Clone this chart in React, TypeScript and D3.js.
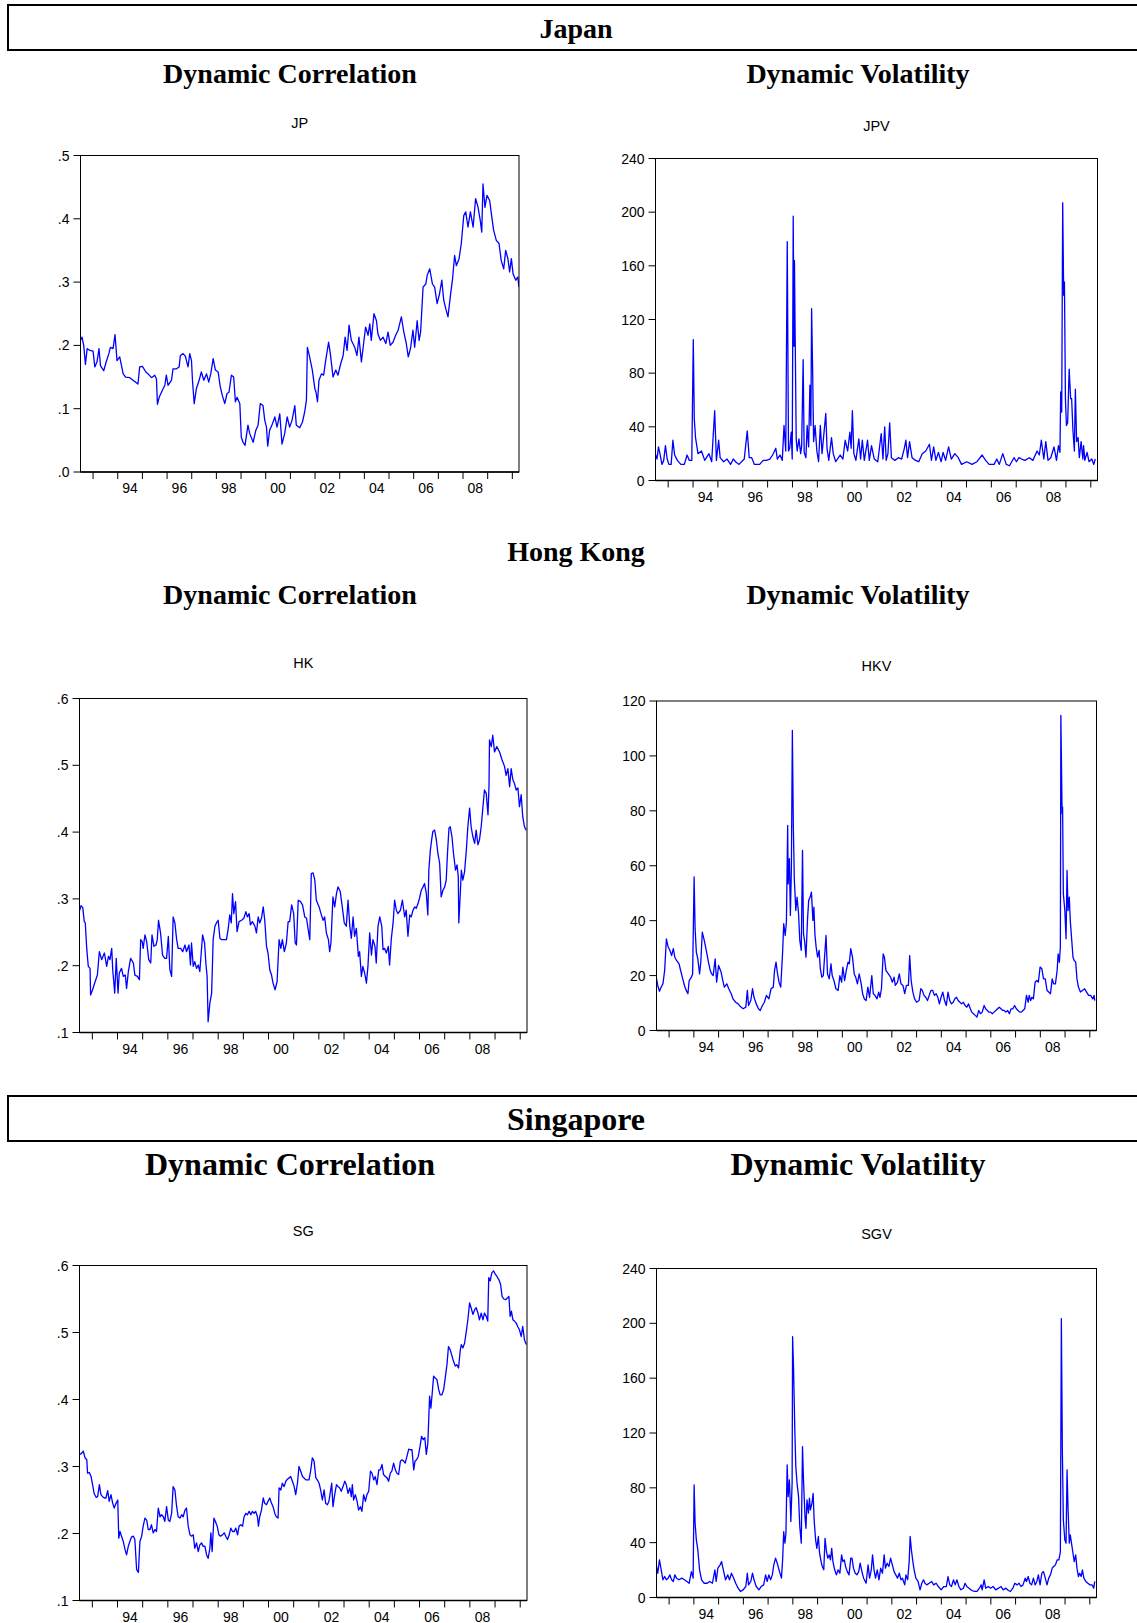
import React from "react";
import * as d3 from "d3";

type Pt = [number, number];

// weekly series: [decimal year, value]
const JP: Pt[] = [
  [1992.49,.208],[1992.55,.213],[1992.62,.200],[1992.69,.170],[1992.76,.195],[1992.87,.192],[1993.00,.191],[1993.07,.166],[1993.16,.174],[1993.24,.195],[1993.30,.168],[1993.43,.160],[1993.54,.175],[1993.64,.187],[1993.70,.197],[1993.81,.195],[1993.89,.217],[1993.97,.176],[1994.08,.182],[1994.22,.155],[1994.32,.150],[1994.49,.149],[1994.62,.145],[1994.82,.139],[1994.89,.166],[1995.00,.167],[1995.14,.158],[1995.23,.155],[1995.37,.149],[1995.50,.153],[1995.57,.147],[1995.61,.107],[1995.68,.118],[1995.81,.129],[1995.91,.137],[1995.97,.153],[1996.04,.137],[1996.18,.145],[1996.24,.163],[1996.38,.163],[1996.49,.166],[1996.54,.184],[1996.65,.187],[1996.74,.183],[1996.85,.166],[1996.92,.187],[1996.99,.176],[1997.03,.145],[1997.10,.108],[1997.19,.132],[1997.30,.145],[1997.39,.158],[1997.49,.145],[1997.60,.155],[1997.69,.142],[1997.77,.155],[1997.87,.179],[1997.96,.161],[1998.07,.158],[1998.16,.134],[1998.24,.121],[1998.34,.108],[1998.43,.124],[1998.51,.126],[1998.61,.153],[1998.70,.150],[1998.77,.111],[1998.84,.118],[1998.95,.108],[1999.01,.055],[1999.08,.047],[1999.16,.042],[1999.28,.074],[1999.35,.061],[1999.49,.047],[1999.60,.066],[1999.69,.074],[1999.78,.108],[1999.89,.105],[1999.96,.082],[2000.03,.071],[2000.08,.041],[2000.16,.066],[2000.27,.076],[2000.37,.087],[2000.46,.071],[2000.57,.092],[2000.66,.044],[2000.77,.061],[2000.87,.087],[2000.97,.071],[2001.07,.082],[2001.18,.105],[2001.24,.074],[2001.38,.070],[2001.49,.079],[2001.58,.095],[2001.65,.113],[2001.69,.197],[2001.78,.182],[2001.89,.161],[2001.99,.132],[2002.04,.126],[2002.10,.111],[2002.16,.145],[2002.26,.155],[2002.35,.153],[2002.43,.176],[2002.55,.205],[2002.62,.187],[2002.73,.150],[2002.84,.161],[2002.93,.153],[2003.04,.171],[2003.14,.184],[2003.22,.213],[2003.30,.192],[2003.38,.232],[2003.47,.208],[2003.61,.197],[2003.70,.184],[2003.78,.213],[2003.88,.174],[2003.97,.203],[2004.05,.229],[2004.15,.216],[2004.22,.234],[2004.28,.208],[2004.39,.250],[2004.49,.239],[2004.55,.218],[2004.65,.208],[2004.76,.213],[2004.87,.203],[2004.96,.221],[2005.05,.200],[2005.16,.205],[2005.27,.216],[2005.37,.224],[2005.50,.245],[2005.60,.221],[2005.70,.203],[2005.78,.182],[2005.87,.195],[2005.97,.224],[2006.04,.197],[2006.14,.239],[2006.22,.208],[2006.28,.221],[2006.38,.292],[2006.49,.297],[2006.55,.311],[2006.65,.321],[2006.76,.297],[2006.85,.292],[2006.95,.266],[2007.05,.282],[2007.14,.303],[2007.22,.271],[2007.30,.258],[2007.39,.245],[2007.49,.279],[2007.57,.303],[2007.66,.342],[2007.73,.326],[2007.84,.337],[2007.93,.361],[2008.03,.405],[2008.11,.411],[2008.20,.387],[2008.30,.411],[2008.41,.387],[2008.51,.432],[2008.61,.418],[2008.70,.397],[2008.76,.379],[2008.81,.455],[2008.89,.418],[2008.97,.437],[2009.08,.429],[2009.16,.405],[2009.24,.382],[2009.35,.366],[2009.46,.361],[2009.55,.334],[2009.65,.321],[2009.73,.350],[2009.82,.337],[2009.89,.316],[2009.96,.337],[2010.03,.313],[2010.14,.303],[2010.22,.308],[2010.27,.292],
];

const JPV: Pt[] = [
  [1992.48,20],[1992.55,16],[1992.61,25],[1992.68,19],[1992.75,12],[1992.82,15],[1992.89,26],[1992.96,16],[1993.03,12],[1993.12,12],[1993.19,30],[1993.26,19],[1993.37,15],[1993.51,12],[1993.65,12],[1993.76,19],[1993.85,15],[1993.95,15],[1994.01,105],[1994.05,46],[1994.10,32],[1994.20,20],[1994.34,22],[1994.47,15],[1994.64,20],[1994.75,14],[1994.87,52],[1994.94,15],[1995.03,30],[1995.09,17],[1995.23,14],[1995.37,16],[1995.51,12],[1995.62,16],[1995.71,14],[1995.85,12],[1996.06,16],[1996.18,37],[1996.26,17],[1996.36,17],[1996.47,12],[1996.68,12],[1996.82,15],[1996.95,15],[1997.09,16],[1997.20,19],[1997.33,24],[1997.39,16],[1997.50,19],[1997.59,15],[1997.66,41],[1997.73,22],[1997.79,178],[1997.84,22],[1997.89,24],[1997.95,36],[1997.99,16],[1998.03,197],[1998.06,100],[1998.08,164],[1998.11,105],[1998.15,31],[1998.19,22],[1998.26,31],[1998.33,20],[1998.37,26],[1998.43,90],[1998.47,21],[1998.54,17],[1998.59,41],[1998.65,25],[1998.70,71],[1998.74,41],[1998.77,128],[1998.81,83],[1998.85,29],[1998.91,41],[1998.98,22],[1999.05,14],[1999.12,41],[1999.19,20],[1999.24,30],[1999.34,50],[1999.39,24],[1999.46,15],[1999.57,32],[1999.64,20],[1999.74,14],[1999.85,17],[1999.92,19],[2000.03,16],[2000.12,30],[2000.22,22],[2000.31,36],[2000.36,24],[2000.41,52],[2000.47,20],[2000.55,15],[2000.67,31],[2000.74,16],[2000.81,30],[2000.89,15],[2001.02,30],[2001.09,15],[2001.18,26],[2001.29,16],[2001.43,14],[2001.57,35],[2001.64,16],[2001.71,40],[2001.77,15],[2001.84,20],[2001.91,43],[2001.98,17],[2002.12,15],[2002.26,17],[2002.39,16],[2002.50,24],[2002.56,30],[2002.63,17],[2002.71,29],[2002.81,17],[2002.95,15],[2003.08,14],[2003.22,20],[2003.36,22],[2003.51,27],[2003.59,15],[2003.68,25],[2003.77,15],[2003.87,21],[2003.98,14],[2004.06,21],[2004.16,15],[2004.28,25],[2004.39,16],[2004.53,20],[2004.67,17],[2004.80,12],[2005.01,14],[2005.22,12],[2005.42,14],[2005.63,19],[2005.77,15],[2005.91,12],[2006.11,12],[2006.22,16],[2006.32,12],[2006.46,20],[2006.60,12],[2006.73,11],[2006.91,17],[2007.01,14],[2007.11,17],[2007.22,16],[2007.35,15],[2007.53,17],[2007.67,15],[2007.84,22],[2007.93,19],[2008.01,30],[2008.11,16],[2008.19,29],[2008.28,15],[2008.39,17],[2008.52,25],[2008.62,15],[2008.70,26],[2008.76,21],[2008.79,66],[2008.83,51],[2008.87,207],[2008.91,138],[2008.94,148],[2008.98,61],[2009.02,41],[2009.07,43],[2009.13,83],[2009.19,61],[2009.23,61],[2009.28,38],[2009.34,22],[2009.38,68],[2009.43,29],[2009.49,32],[2009.54,17],[2009.61,29],[2009.68,16],[2009.71,26],[2009.76,15],[2009.85,21],[2009.93,14],[2010.04,16],[2010.12,12],[2010.18,16],
];

const HK: Pt[] = [
  [1992.50,.283],[1992.55,.290],[1992.62,.287],[1992.68,.266],[1992.72,.264],[1992.78,.224],[1992.84,.199],[1992.91,.196],[1992.93,.156],[1993.01,.164],[1993.11,.176],[1993.20,.186],[1993.28,.221],[1993.37,.209],[1993.48,.219],[1993.57,.199],[1993.64,.214],[1993.70,.209],[1993.77,.226],[1993.81,.194],[1993.89,.159],[1993.95,.211],[1994.02,.159],[1994.07,.189],[1994.16,.196],[1994.23,.184],[1994.31,.186],[1994.36,.166],[1994.43,.191],[1994.52,.211],[1994.63,.204],[1994.69,.186],[1994.79,.184],[1994.87,.179],[1994.92,.239],[1994.98,.236],[1995.02,.226],[1995.09,.246],[1995.16,.236],[1995.24,.209],[1995.32,.204],[1995.37,.246],[1995.45,.229],[1995.53,.231],[1995.58,.239],[1995.63,.268],[1995.71,.249],[1995.79,.216],[1995.88,.211],[1995.95,.211],[1996.02,.244],[1996.08,.194],[1996.15,.184],[1996.21,.273],[1996.28,.264],[1996.35,.239],[1996.41,.226],[1996.51,.226],[1996.59,.221],[1996.68,.231],[1996.74,.221],[1996.84,.231],[1996.90,.201],[1996.94,.234],[1997.01,.199],[1997.07,.206],[1997.14,.196],[1997.21,.201],[1997.27,.191],[1997.38,.246],[1997.46,.234],[1997.51,.204],[1997.56,.184],[1997.60,.116],[1997.67,.144],[1997.74,.159],[1997.80,.239],[1997.87,.259],[1997.93,.264],[1998.00,.268],[1998.07,.241],[1998.13,.239],[1998.23,.239],[1998.33,.239],[1998.40,.256],[1998.46,.276],[1998.52,.264],[1998.57,.308],[1998.62,.278],[1998.69,.296],[1998.75,.251],[1998.83,.266],[1998.93,.268],[1999.02,.271],[1999.10,.281],[1999.16,.273],[1999.23,.278],[1999.28,.261],[1999.36,.266],[1999.46,.259],[1999.52,.249],[1999.59,.273],[1999.65,.264],[1999.72,.271],[1999.79,.288],[1999.85,.268],[1999.92,.229],[1999.98,.219],[2000.05,.194],[2000.12,.186],[2000.18,.174],[2000.26,.164],[2000.34,.176],[2000.42,.239],[2000.49,.226],[2000.55,.239],[2000.63,.221],[2000.71,.234],[2000.78,.266],[2000.84,.266],[2000.92,.291],[2001.00,.278],[2001.06,.234],[2001.11,.231],[2001.18,.298],[2001.27,.296],[2001.35,.291],[2001.44,.273],[2001.51,.271],[2001.57,.256],[2001.64,.239],[2001.70,.338],[2001.77,.339],[2001.84,.328],[2001.90,.298],[2002.01,.288],[2002.10,.276],[2002.17,.268],[2002.23,.273],[2002.30,.249],[2002.38,.239],[2002.43,.221],[2002.48,.234],[2002.56,.303],[2002.63,.288],[2002.70,.308],[2002.76,.318],[2002.85,.311],[2002.93,.288],[2003.01,.264],[2003.09,.259],[2003.16,.298],[2003.23,.259],[2003.29,.241],[2003.36,.273],[2003.42,.244],[2003.49,.256],[2003.57,.214],[2003.62,.221],[2003.69,.184],[2003.75,.199],[2003.82,.189],[2003.89,.174],[2003.95,.199],[2004.02,.249],[2004.09,.216],[2004.15,.239],[2004.23,.229],[2004.28,.204],[2004.35,.259],[2004.42,.273],[2004.50,.259],[2004.55,.224],[2004.61,.226],[2004.68,.219],[2004.76,.229],[2004.81,.201],[2004.88,.241],[2004.95,.264],[2005.01,.298],[2005.08,.283],[2005.14,.278],[2005.24,.283],[2005.32,.298],[2005.41,.273],[2005.47,.283],[2005.54,.244],[2005.61,.276],[2005.67,.273],[2005.74,.283],[2005.81,.288],[2005.87,.286],[2005.94,.293],[2006.00,.301],[2006.07,.313],[2006.14,.318],[2006.20,.323],[2006.27,.308],[2006.33,.276],[2006.37,.343],[2006.43,.373],[2006.48,.388],[2006.53,.401],[2006.60,.403],[2006.67,.388],[2006.73,.368],[2006.80,.353],[2006.86,.303],[2006.93,.313],[2007.00,.318],[2007.06,.328],[2007.11,.368],[2007.17,.406],[2007.22,.408],[2007.29,.393],[2007.35,.368],[2007.43,.343],[2007.49,.351],[2007.54,.333],[2007.56,.264],[2007.62,.308],[2007.66,.343],[2007.72,.328],[2007.79,.341],[2007.86,.373],[2007.92,.408],[2007.99,.436],[2008.05,.408],[2008.12,.393],[2008.19,.383],[2008.25,.403],[2008.32,.381],[2008.38,.388],[2008.45,.408],[2008.52,.438],[2008.58,.463],[2008.65,.458],[2008.72,.426],[2008.76,.468],[2008.78,.538],[2008.85,.528],[2008.91,.545],[2008.98,.520],[2009.07,.528],[2009.18,.520],[2009.28,.508],[2009.38,.498],[2009.44,.485],[2009.51,.495],[2009.58,.468],[2009.64,.495],[2009.71,.478],[2009.77,.473],[2009.84,.463],[2009.91,.466],[2009.97,.438],[2010.04,.456],[2010.10,.423],[2010.17,.408],[2010.24,.403],
];

const HKV: Pt[] = [
  [1992.48,19.4],[1992.54,16.4],[1992.61,14.3],[1992.68,15.8],[1992.75,17.0],[1992.82,21.9],[1992.89,33.4],[1992.96,30.4],[1993.03,29.2],[1993.10,27.3],[1993.17,29.8],[1993.23,26.7],[1993.30,25.5],[1993.40,24.3],[1993.48,21.3],[1993.55,18.8],[1993.62,16.4],[1993.69,14.6],[1993.76,13.4],[1993.81,18.2],[1993.90,19.4],[1993.95,20.6],[1994.01,55.9],[1994.05,37.0],[1994.10,28.5],[1994.16,26.1],[1994.23,20.6],[1994.28,24.9],[1994.34,35.8],[1994.42,32.8],[1994.50,29.2],[1994.59,24.9],[1994.66,21.9],[1994.72,20.6],[1994.78,20.0],[1994.86,26.1],[1994.92,17.6],[1995.00,23.7],[1995.10,21.3],[1995.17,18.2],[1995.23,15.8],[1995.33,17.0],[1995.41,15.2],[1995.51,13.4],[1995.58,11.5],[1995.69,10.3],[1995.79,9.7],[1995.88,8.7],[1995.99,7.9],[1996.10,8.5],[1996.16,14.6],[1996.21,9.1],[1996.30,10.9],[1996.37,15.2],[1996.43,12.1],[1996.52,9.7],[1996.61,7.9],[1996.68,7.3],[1996.77,9.1],[1996.85,10.3],[1996.93,12.8],[1997.03,11.5],[1997.12,15.2],[1997.21,15.8],[1997.26,21.9],[1997.32,24.9],[1997.37,21.3],[1997.44,17.6],[1997.51,15.8],[1997.59,29.2],[1997.63,38.9],[1997.69,34.6],[1997.74,39.5],[1997.79,74.7],[1997.81,53.4],[1997.86,62.6],[1997.90,41.9],[1997.94,58.9],[1997.98,109.3],[1998.02,74.1],[1998.06,54.7],[1998.12,43.7],[1998.17,48.6],[1998.23,42.5],[1998.28,32.8],[1998.34,29.2],[1998.39,65.6],[1998.43,35.2],[1998.48,32.2],[1998.53,26.7],[1998.59,40.1],[1998.64,47.4],[1998.70,48.6],[1998.75,50.4],[1998.81,40.1],[1998.85,44.9],[1998.89,35.2],[1998.94,30.4],[1999.00,26.7],[1999.06,29.2],[1999.11,22.5],[1999.17,19.4],[1999.23,20.0],[1999.30,29.2],[1999.34,34.6],[1999.40,20.6],[1999.47,18.8],[1999.54,24.3],[1999.59,20.0],[1999.66,18.2],[1999.74,15.2],[1999.83,14.6],[1999.90,20.0],[1999.97,17.6],[2000.02,23.1],[2000.09,18.2],[2000.16,21.9],[2000.23,24.9],[2000.28,24.3],[2000.34,29.8],[2000.41,26.7],[2000.48,20.6],[2000.54,19.4],[2000.61,17.0],[2000.68,20.6],[2000.75,17.6],[2000.82,13.4],[2000.89,11.5],[2000.96,10.9],[2001.03,15.8],[2001.10,12.1],[2001.19,20.0],[2001.25,13.4],[2001.32,12.8],[2001.40,11.5],[2001.47,14.0],[2001.52,12.1],[2001.58,15.2],[2001.65,27.9],[2001.70,26.7],[2001.76,21.9],[2001.86,20.6],[2001.95,19.4],[2002.02,17.6],[2002.09,19.4],[2002.14,16.4],[2002.23,17.6],[2002.30,20.6],[2002.37,17.0],[2002.45,16.4],[2002.52,13.4],[2002.59,16.4],[2002.67,16.4],[2002.72,27.3],[2002.78,18.2],[2002.85,14.0],[2002.92,11.5],[2003.00,10.3],[2003.10,10.9],[2003.17,15.2],[2003.23,14.6],[2003.30,12.8],[2003.37,12.1],[2003.44,10.9],[2003.51,12.8],[2003.58,14.6],[2003.65,14.6],[2003.72,12.8],[2003.79,13.4],[2003.86,12.1],[2003.92,9.7],[2003.99,12.1],[2004.06,14.0],[2004.13,10.9],[2004.20,9.1],[2004.27,14.0],[2004.34,10.9],[2004.41,9.7],[2004.48,10.3],[2004.54,11.5],[2004.61,12.1],[2004.68,10.9],[2004.75,10.3],[2004.82,9.7],[2004.89,10.3],[2004.96,9.1],[2005.03,8.5],[2005.10,9.7],[2005.17,7.9],[2005.23,6.7],[2005.30,6.1],[2005.37,5.5],[2005.44,4.9],[2005.51,7.3],[2005.58,6.1],[2005.65,6.7],[2005.73,9.1],[2005.79,7.9],[2005.86,7.3],[2005.92,6.7],[2005.99,6.7],[2006.06,6.1],[2006.13,6.7],[2006.20,7.3],[2006.27,7.9],[2006.34,8.5],[2006.41,7.9],[2006.48,7.3],[2006.54,7.3],[2006.61,6.7],[2006.68,7.3],[2006.75,6.1],[2006.82,7.9],[2006.89,7.9],[2006.96,9.1],[2007.03,7.9],[2007.10,7.3],[2007.17,6.7],[2007.23,6.7],[2007.30,7.3],[2007.37,7.9],[2007.44,12.8],[2007.51,10.3],[2007.55,12.8],[2007.61,10.9],[2007.66,12.1],[2007.72,11.5],[2007.79,17.6],[2007.86,18.2],[2007.92,17.6],[2007.99,23.1],[2008.06,22.5],[2008.13,18.8],[2008.20,18.8],[2008.27,14.6],[2008.34,14.0],[2008.41,13.4],[2008.48,18.8],[2008.54,17.0],[2008.61,17.0],[2008.68,21.9],[2008.72,27.9],[2008.77,24.9],[2008.81,30.4],[2008.83,114.8],[2008.88,79.0],[2008.90,81.4],[2008.93,49.8],[2008.99,43.7],[2009.04,33.4],[2009.08,58.3],[2009.12,43.7],[2009.17,48.6],[2009.21,40.1],[2009.26,34.0],[2009.32,26.7],[2009.37,25.5],[2009.43,24.9],[2009.48,18.8],[2009.54,15.8],[2009.62,14.0],[2009.70,14.6],[2009.79,15.2],[2009.87,14.0],[2009.95,12.8],[2010.03,12.8],[2010.12,11.5],[2010.17,12.8],[2010.20,10.9],
];

const SG: Pt[] = [
  [1992.50,.318],[1992.58,.320],[1992.64,.323],[1992.71,.313],[1992.78,.310],[1992.81,.290],[1992.88,.291],[1992.95,.285],[1993.01,.273],[1993.07,.260],[1993.15,.254],[1993.21,.255],[1993.28,.273],[1993.34,.258],[1993.41,.255],[1993.48,.253],[1993.54,.253],[1993.61,.264],[1993.67,.248],[1993.74,.258],[1993.81,.245],[1993.87,.238],[1993.94,.245],[1994.01,.250],[1994.05,.193],[1994.10,.203],[1994.16,.196],[1994.23,.188],[1994.30,.176],[1994.36,.168],[1994.43,.181],[1994.49,.188],[1994.56,.195],[1994.63,.196],[1994.69,.191],[1994.76,.146],[1994.83,.142],[1994.89,.188],[1994.96,.196],[1995.02,.211],[1995.09,.223],[1995.16,.220],[1995.22,.206],[1995.29,.206],[1995.35,.213],[1995.42,.201],[1995.49,.206],[1995.55,.203],[1995.62,.238],[1995.69,.225],[1995.75,.228],[1995.82,.225],[1995.88,.218],[1995.95,.240],[1996.02,.220],[1996.08,.218],[1996.15,.230],[1996.21,.270],[1996.28,.265],[1996.35,.240],[1996.41,.225],[1996.48,.223],[1996.55,.228],[1996.61,.225],[1996.68,.235],[1996.74,.238],[1996.81,.211],[1996.88,.198],[1996.94,.196],[1997.01,.198],[1997.07,.178],[1997.14,.186],[1997.21,.173],[1997.27,.183],[1997.34,.186],[1997.40,.181],[1997.47,.181],[1997.54,.168],[1997.60,.163],[1997.67,.178],[1997.71,.201],[1997.76,.173],[1997.83,.223],[1997.89,.218],[1997.96,.211],[1998.03,.198],[1998.09,.196],[1998.17,.198],[1998.24,.201],[1998.30,.196],[1998.37,.191],[1998.44,.198],[1998.50,.208],[1998.57,.203],[1998.64,.203],[1998.70,.208],[1998.77,.198],[1998.83,.211],[1998.90,.213],[1998.97,.211],[1999.03,.225],[1999.10,.230],[1999.16,.228],[1999.23,.233],[1999.30,.228],[1999.36,.233],[1999.43,.230],[1999.49,.233],[1999.56,.225],[1999.60,.211],[1999.65,.225],[1999.72,.235],[1999.79,.253],[1999.85,.245],[1999.92,.243],[1999.98,.248],[2000.05,.253],[2000.12,.245],[2000.18,.240],[2000.25,.230],[2000.31,.225],[2000.38,.223],[2000.42,.268],[2000.49,.265],[2000.55,.275],[2000.62,.270],[2000.69,.278],[2000.75,.281],[2000.82,.283],[2000.88,.285],[2000.95,.278],[2001.02,.270],[2001.08,.258],[2001.15,.275],[2001.21,.300],[2001.28,.293],[2001.35,.285],[2001.41,.283],[2001.48,.280],[2001.55,.280],[2001.61,.280],[2001.68,.295],[2001.74,.313],[2001.81,.308],[2001.88,.283],[2001.94,.280],[2002.01,.275],[2002.07,.265],[2002.14,.250],[2002.21,.265],[2002.27,.245],[2002.34,.243],[2002.40,.248],[2002.47,.265],[2002.51,.275],[2002.56,.240],[2002.63,.258],[2002.70,.273],[2002.76,.270],[2002.83,.268],[2002.89,.263],[2002.96,.270],[2003.03,.278],[2003.09,.273],[2003.16,.260],[2003.23,.268],[2003.29,.255],[2003.33,.273],[2003.38,.250],[2003.45,.258],[2003.52,.248],[2003.58,.235],[2003.65,.240],[2003.71,.233],[2003.78,.258],[2003.85,.248],[2003.91,.258],[2003.98,.263],[2004.05,.293],[2004.11,.290],[2004.18,.280],[2004.24,.285],[2004.31,.273],[2004.38,.295],[2004.44,.295],[2004.51,.303],[2004.57,.288],[2004.64,.285],[2004.71,.283],[2004.77,.278],[2004.84,.290],[2004.90,.293],[2004.97,.305],[2005.04,.295],[2005.10,.290],[2005.17,.288],[2005.24,.308],[2005.30,.310],[2005.37,.308],[2005.43,.305],[2005.50,.315],[2005.57,.326],[2005.63,.325],[2005.70,.325],[2005.77,.295],[2005.82,.308],[2005.88,.310],[2005.95,.315],[2006.02,.330],[2006.08,.345],[2006.15,.340],[2006.21,.343],[2006.27,.318],[2006.33,.335],[2006.40,.405],[2006.45,.387],[2006.51,.412],[2006.56,.435],[2006.62,.432],[2006.69,.430],[2006.76,.415],[2006.82,.407],[2006.89,.407],[2006.96,.415],[2007.02,.432],[2007.09,.452],[2007.15,.479],[2007.22,.474],[2007.29,.465],[2007.35,.457],[2007.42,.450],[2007.48,.452],[2007.55,.447],[2007.62,.474],[2007.66,.482],[2007.72,.477],[2007.79,.484],[2007.86,.502],[2007.92,.519],[2007.99,.544],[2008.05,.537],[2008.12,.527],[2008.19,.534],[2008.25,.537],[2008.32,.529],[2008.38,.519],[2008.45,.529],[2008.52,.519],[2008.58,.529],[2008.65,.524],[2008.71,.517],[2008.75,.582],[2008.81,.577],[2008.87,.589],[2008.94,.592],[2009.01,.587],[2009.07,.584],[2009.15,.579],[2009.22,.572],[2009.28,.554],[2009.35,.550],[2009.42,.549],[2009.48,.551],[2009.55,.554],[2009.60,.524],[2009.65,.532],[2009.71,.519],[2009.77,.517],[2009.84,.514],[2009.90,.509],[2009.97,.504],[2010.04,.494],[2010.10,.509],[2010.17,.489],[2010.24,.482],
];

const SGV: Pt[] = [
  [1992.48,23.8],[1992.54,17.7],[1992.61,27.4],[1992.68,20.2],[1992.75,12.9],[1992.82,15.3],[1992.89,12.9],[1992.96,14.1],[1993.03,16.5],[1993.10,12.9],[1993.17,11.7],[1993.23,16.5],[1993.30,14.1],[1993.40,12.9],[1993.51,14.1],[1993.62,12.9],[1993.72,11.7],[1993.81,10.4],[1993.90,18.9],[1993.97,14.1],[1994.01,82.1],[1994.05,54.2],[1994.10,42.0],[1994.16,34.7],[1994.23,20.2],[1994.31,12.9],[1994.41,10.4],[1994.54,10.4],[1994.64,11.7],[1994.75,10.4],[1994.85,20.2],[1994.90,11.7],[1994.97,21.4],[1995.06,23.8],[1995.12,26.2],[1995.19,20.2],[1995.28,12.9],[1995.37,16.5],[1995.44,12.9],[1995.52,17.7],[1995.61,14.1],[1995.69,10.4],[1995.79,6.8],[1995.88,4.4],[1995.99,5.6],[1996.10,8.0],[1996.16,17.7],[1996.21,9.2],[1996.30,11.7],[1996.37,17.7],[1996.43,12.9],[1996.52,8.0],[1996.63,5.6],[1996.72,8.0],[1996.82,9.2],[1996.90,16.5],[1996.96,11.7],[1997.03,16.5],[1997.10,12.9],[1997.17,16.5],[1997.23,23.8],[1997.30,28.7],[1997.37,25.0],[1997.46,18.9],[1997.54,14.1],[1997.59,28.7],[1997.63,48.1],[1997.68,39.6],[1997.72,46.9],[1997.77,96.7],[1997.81,73.6],[1997.86,85.7],[1997.90,66.3],[1997.92,55.4],[1997.97,83.3],[1997.99,190.2],[1998.03,165.9],[1998.08,121.0],[1998.12,95.5],[1998.17,83.3],[1998.23,73.6],[1998.28,51.7],[1998.34,39.6],[1998.39,110.0],[1998.43,85.7],[1998.49,59.0],[1998.53,50.5],[1998.57,71.2],[1998.63,61.5],[1998.67,72.4],[1998.71,63.9],[1998.77,68.7],[1998.82,76.0],[1998.86,56.6],[1998.92,42.0],[1998.97,35.9],[1999.03,44.5],[1999.08,32.3],[1999.14,26.2],[1999.19,22.6],[1999.25,20.2],[1999.30,43.2],[1999.36,33.5],[1999.41,28.7],[1999.47,31.1],[1999.52,27.4],[1999.57,35.9],[1999.62,26.2],[1999.69,20.2],[1999.76,16.5],[1999.83,20.2],[1999.90,17.7],[1999.97,31.1],[2000.02,26.2],[2000.08,27.4],[2000.13,22.6],[2000.20,18.9],[2000.27,16.5],[2000.34,28.7],[2000.39,28.7],[2000.45,21.4],[2000.52,17.7],[2000.59,16.5],[2000.66,18.9],[2000.72,25.0],[2000.79,18.9],[2000.86,14.1],[2000.96,10.4],[2001.04,23.8],[2001.10,14.1],[2001.17,20.2],[2001.22,31.1],[2001.28,20.2],[2001.34,14.1],[2001.41,20.2],[2001.48,12.9],[2001.55,21.4],[2001.62,17.7],[2001.69,31.1],[2001.74,21.4],[2001.81,25.0],[2001.88,22.6],[2001.95,28.7],[2002.02,23.8],[2002.09,18.9],[2002.16,16.5],[2002.23,14.1],[2002.30,17.7],[2002.37,12.9],[2002.43,14.1],[2002.52,9.2],[2002.57,16.5],[2002.64,12.9],[2002.70,26.2],[2002.74,44.5],[2002.79,34.7],[2002.85,26.2],[2002.90,20.2],[2002.97,14.1],[2003.06,11.7],[2003.14,5.6],[2003.21,10.4],[2003.28,12.9],[2003.34,10.4],[2003.41,9.2],[2003.51,10.4],[2003.61,11.7],[2003.69,9.2],[2003.79,10.4],[2003.88,8.0],[2003.99,5.6],[2004.10,8.0],[2004.20,8.0],[2004.27,15.3],[2004.34,9.2],[2004.41,8.0],[2004.49,12.9],[2004.56,9.2],[2004.63,12.9],[2004.71,8.0],[2004.79,5.6],[2004.89,6.8],[2004.96,10.4],[2005.03,8.0],[2005.12,6.8],[2005.23,5.1],[2005.34,4.4],[2005.44,4.4],[2005.54,6.8],[2005.61,9.2],[2005.65,5.6],[2005.73,12.9],[2005.79,6.8],[2005.90,8.0],[2005.99,6.8],[2006.09,8.0],[2006.20,5.6],[2006.31,6.8],[2006.41,8.0],[2006.50,5.6],[2006.61,6.8],[2006.71,5.1],[2006.79,4.4],[2006.89,6.8],[2006.97,10.4],[2007.06,9.2],[2007.14,10.4],[2007.22,8.0],[2007.30,9.2],[2007.39,14.1],[2007.44,11.7],[2007.51,15.3],[2007.58,10.4],[2007.65,9.2],[2007.72,14.1],[2007.79,9.2],[2007.86,11.7],[2007.92,16.5],[2007.99,9.2],[2008.06,17.7],[2008.13,18.9],[2008.20,14.1],[2008.27,9.2],[2008.34,14.1],[2008.41,16.5],[2008.48,21.4],[2008.54,22.6],[2008.61,23.8],[2008.68,27.4],[2008.75,27.4],[2008.81,33.5],[2008.85,203.5],[2008.89,107.6],[2008.93,56.6],[2008.99,42.0],[2009.04,39.6],[2009.08,93.0],[2009.12,65.1],[2009.17,39.6],[2009.21,45.7],[2009.26,39.6],[2009.32,32.3],[2009.37,26.2],[2009.43,31.1],[2009.48,21.4],[2009.54,15.3],[2009.59,17.7],[2009.65,15.3],[2009.70,20.2],[2009.76,14.1],[2009.84,11.7],[2009.92,10.4],[2010.01,9.2],[2010.09,9.2],[2010.16,6.8],[2010.20,11.7],
];

const DATE_RANGE: [number, number] = [1992.49, 2010.27];
const YEAR_TICKS = [1993, 1994, 1995, 1996, 1997, 1998, 1999, 2000, 2001, 2002, 2003, 2004, 2005, 2006, 2007, 2008, 2009, 2010];
const YEAR_LABELS = [1994, 1996, 1998, 2000, 2002, 2004, 2006, 2008];
const CORR_TICKS_JP = [0, 0.1, 0.2, 0.3, 0.4, 0.5];
const CORR_TICKS = [0.1, 0.2, 0.3, 0.4, 0.5, 0.6];
const VOL_TICKS_240 = [0, 40, 80, 120, 160, 200, 240];
const VOL_TICKS_120 = [0, 20, 40, 60, 80, 100, 120];

const SANS = "'Liberation Sans', Arial, sans-serif";
const SERIF = "'Liberation Serif', 'Times New Roman', serif";

const corrFmt = (v: number) => d3.format(".1f")(v).replace(/^0/, "");
const volFmt = (v: number) => String(v);

type PanelProps = {
  id: string;
  label: string;
  labelGap: number;
  box: [number, number, number, number]; // left, top, right, bottom
  data: Pt[];
  yDomain: [number, number];
  yTicks: number[];
  fmt: (v: number) => string;
};

const Panel = ({ id, label, labelGap, box, data, yDomain, yTicks, fmt }: PanelProps) => {
  const [l, t, r, b] = box;
  const x = d3.scaleLinear().domain(DATE_RANGE).range([l, r]);
  const y = d3.scaleLinear().domain(yDomain).range([b, t]);
  const line = d3.line<Pt>().x(d => x(d[0])).y(d => y(d[1]));
  return (
    <g>
      <defs>
        <clipPath id={id}>
          <rect x={l} y={t} width={r - l} height={b - t} />
        </clipPath>
      </defs>
      <text x={(l + r) / 2} y={t - labelGap} textAnchor="middle" fontFamily={SANS} fontSize={14.5}>{label}</text>
      <path d={line(data) || ""} fill="none" stroke="#0000ff" strokeWidth={1.3} strokeLinejoin="round" clipPath={`url(#${id})`} />
      <rect x={l} y={t} width={r - l} height={b - t} fill="none" stroke="#000" strokeWidth={1} />
      <line x1={l} x2={r} y1={b} y2={b} stroke="#000" strokeWidth={1.6} />
      {yTicks.map(v => (
        <g key={v}>
          <line x1={l - 7} x2={l} y1={y(v)} y2={y(v)} stroke="#000" />
          <text x={l - 11} y={y(v)} dy="0.36em" textAnchor="end" fontFamily={SANS} fontSize={14}>{fmt(v)}</text>
        </g>
      ))}
      {YEAR_TICKS.map(yr => (
        <line key={yr} x1={x(yr)} x2={x(yr)} y1={b} y2={b + 7} stroke="#000" />
      ))}
      {YEAR_LABELS.map(yr => (
        <text key={yr} x={x(yr + 0.5)} y={b + 21} textAnchor="middle" fontFamily={SANS} fontSize={14}>
          {String(yr).slice(2)}
        </text>
      ))}
    </g>
  );
};

const Heading = ({ x, y, size, text }: { x: number; y: number; size: number; text: string }) => (
  <text x={x} y={y} textAnchor="middle" fontFamily={SERIF} fontWeight="bold" fontSize={size}>{text}</text>
);

export default function App() {
  return (
    <div style={{ position: "absolute", left: 0, top: 0 }}>
      <svg width={1137} height={1623} style={{ display: "block", background: "#fff" }}>
        {/* Japan */}
        <rect x={8} y={5} width={1140} height={45} fill="none" stroke="#000" strokeWidth={2} />
        <Heading x={576} y={38} size={28} text="Japan" />
        <Heading x={290} y={83} size={28} text="Dynamic Correlation" />
        <Heading x={858} y={83} size={28} text="Dynamic Volatility" />
        <Panel id="c-jp" label="JP" labelGap={28} box={[80.5, 155.5, 519, 472]} data={JP} yDomain={[0, 0.5]} yTicks={CORR_TICKS_JP} fmt={corrFmt} />
        <Panel id="c-jpv" label="JPV" labelGap={28} box={[655.5, 158.5, 1097.5, 480.5]} data={JPV} yDomain={[0, 240]} yTicks={VOL_TICKS_240} fmt={volFmt} />

        {/* Hong Kong */}
        <Heading x={576} y={561} size={28} text="Hong Kong" />
        <Heading x={290} y={604} size={28} text="Dynamic Correlation" />
        <Heading x={858} y={604} size={28} text="Dynamic Volatility" />
        <Panel id="c-hk" label="HK" labelGap={31} box={[79.5, 698.5, 527, 1032.5]} data={HK} yDomain={[0.1, 0.6]} yTicks={CORR_TICKS} fmt={corrFmt} />
        <Panel id="c-hkv" label="HKV" labelGap={30} box={[656.5, 701, 1096.5, 1030.5]} data={HKV} yDomain={[0, 120]} yTicks={VOL_TICKS_120} fmt={volFmt} />

        {/* Singapore */}
        <rect x={8} y={1096} width={1140} height={45} fill="none" stroke="#000" strokeWidth={2} />
        <Heading x={576} y={1130} size={32} text="Singapore" />
        <Heading x={290} y={1175} size={32} text="Dynamic Correlation" />
        <Heading x={858} y={1175} size={32} text="Dynamic Volatility" />
        <Panel id="c-sg" label="SG" labelGap={30} box={[79.5, 1265.5, 527, 1600.5]} data={SG} yDomain={[0.1, 0.6]} yTicks={CORR_TICKS} fmt={corrFmt} />
        <Panel id="c-sgv" label="SGV" labelGap={30} box={[656.5, 1268.5, 1096.5, 1597.5]} data={SGV} yDomain={[0, 240]} yTicks={VOL_TICKS_240} fmt={volFmt} />
      </svg>
    </div>
  );
}
